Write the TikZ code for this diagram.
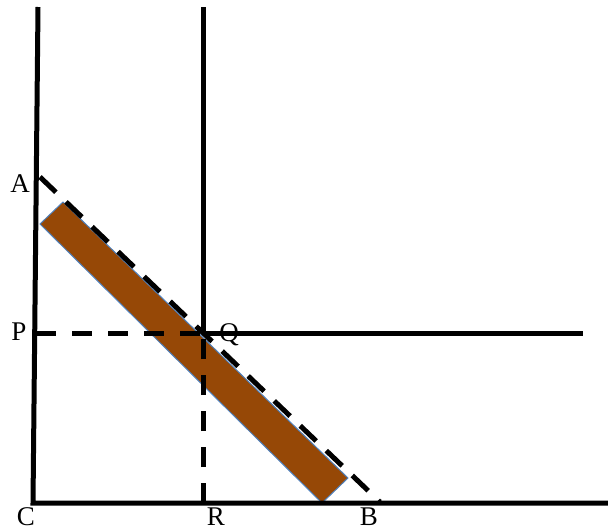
\documentclass[tikz,border=0pt]{standalone}
\usepackage{fontspec}
\setmainfont{Liberation Serif}
\usetikzlibrary{calc}
\definecolor{barbrown}{RGB}{150,72,6}
\definecolor{barblue}{RGB}{79,129,189}
\tikzset{
  axis/.style={line width=5pt, black},
  dashline/.style={line width=5pt, black, dash pattern=on 20pt off 16pt},
  lbl/.style={font=\fontsize{27}{27}\selectfont, inner sep=0pt},
}
\begin{document}
\begin{tikzpicture}[x=1pt,y=-1pt]
\useasboundingbox (0,0) rectangle (608,530);
% coordinates
\coordinate (ytop) at (38,7);
\coordinate (C0) at (33,503);
\coordinate (xend) at (608,503);
\coordinate (vtop) at (203,7);
\coordinate (Qp) at (203,333);
\coordinate (Rp) at (203,503);
\coordinate (Pp) at (36,333);
\coordinate (hend) at (583,333);
\coordinate (Ap) at (40,177);
\coordinate (Bp) at (380,502);
% brown bar
\filldraw[fill=barbrown, draw=barblue, line width=1pt]
  (63,202) coordinate (b1) -- (348,478) coordinate (b2) -- (322,503) coordinate (b3) -- (40,224) coordinate (b4) -- cycle;
% axes
\draw[axis, line join=miter] (ytop) -- (C0) -- (xend);
\draw[axis] (vtop) -- (Qp);
\draw[axis] (Qp) -- (hend);
\draw[dashline] (Pp) -- (Qp);
\draw[dashline] (Rp) -- (Qp);
\draw[line width=5pt, black, dash pattern=on 22pt off 14pt] (Ap) -- (Bp);
% labels
\node[lbl] (A) at (20,184) {A};
\node[lbl] (P) at (19,332) {P};
\node[lbl] (Q) at (229,335) {Q};
\node[lbl, anchor=base] (C) at (26,525) {C};
\node[lbl, anchor=base] (R) at (216,525) {R};
\node[lbl, anchor=base] (B) at (369,525) {B};
\end{tikzpicture}
\end{document}
